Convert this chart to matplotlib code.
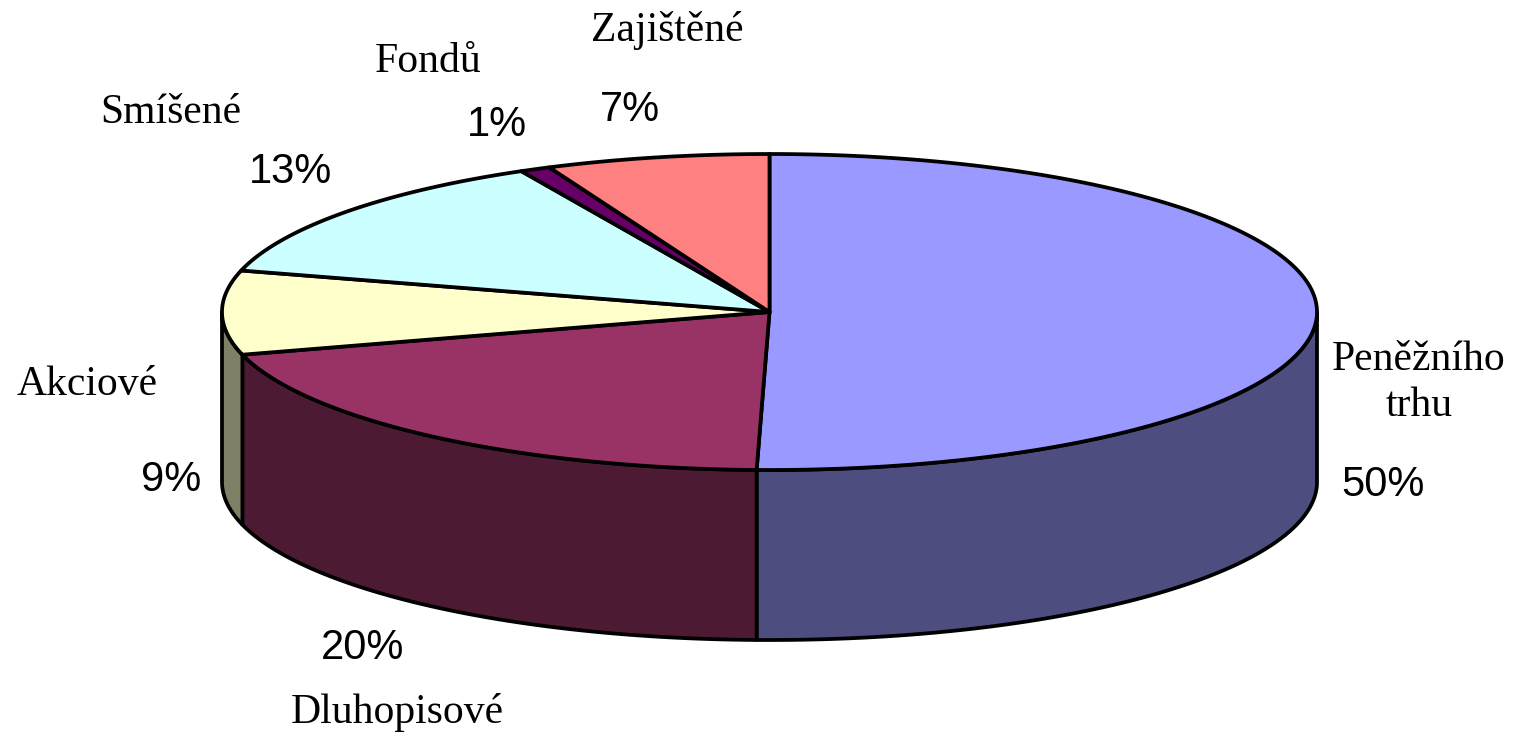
import numpy as np
import matplotlib.pyplot as plt
from matplotlib.patches import Polygon

# data (share of funds, clockwise from 12 o'clock)
categories = ['Peněžního\ntrhu', 'Dluhopisové', 'Akciové', 'Smíšené', 'Fondů', 'Zajištěné']
values = [50.45, 20.3, 8.6, 13.3, 0.9, 6.6]
top_colors = ['#9999FF', '#993366', '#FFFFCC', '#CCFFFF', '#660066', '#FF8080']
side_colors = ['#4D4D80', '#4D1A33', '#808066', '#668080', '#330033', '#804040']

# label positions in pixels (name, percentage)
name_pos = [(1419, 383), (397, 713), (87, 385), (171, 113), (428, 62), (667, 30)]
pct_pos = [(1383, 485), (363, 648), (171, 480), (290, 172), (497, 125), (630, 110)]

W, H = 1528, 733
cx, cy = 769.5, 312
a, b = 547.5, 158
depth = 170

fig = plt.figure(figsize=(W / 100, H / 100), dpi=100)
ax = fig.add_axes([0, 0, 1, 1])
ax.set_xlim(0, W)
ax.set_ylim(H, 0)
ax.axis('off')


def ell(t, dy=0):
    t = np.radians(t)
    return np.column_stack([cx + a * np.sin(t), cy - b * np.cos(t) + dy])


frac = np.array(values) / sum(values)
edges = np.concatenate([[0], np.cumsum(frac) * 360])

# side walls (front half only)
for i in range(len(values)):
    t0, t1 = max(edges[i], 90), min(edges[i + 1], 270)
    if t1 <= t0:
        continue
    t = np.linspace(t0, t1, 200)
    pts = np.vstack([ell(t), ell(t[::-1], depth)])
    ax.add_patch(Polygon(pts, closed=True, facecolor=side_colors[i],
                         edgecolor='black', lw=2.7, joinstyle='round', zorder=1))

# top faces
for i in range(len(values)):
    t = np.linspace(edges[i], edges[i + 1], 300)
    pts = np.vstack([[cx, cy], ell(t)])
    ax.add_patch(Polygon(pts, closed=True, facecolor=top_colors[i],
                         edgecolor='black', lw=2.7, joinstyle='round', zorder=2))

pcts = [f'{round(f * 100):d}%' for f in frac]
for i in range(len(values)):
    ax.text(*name_pos[i], categories[i], family='Liberation Serif', fontsize=30,
            ha='center', va='center', linespacing=1.25)
    ax.text(*pct_pos[i], pcts[i], family='Liberation Sans', fontsize=30,
            ha='center', va='center')

fig.savefig('out.png', dpi=100)
